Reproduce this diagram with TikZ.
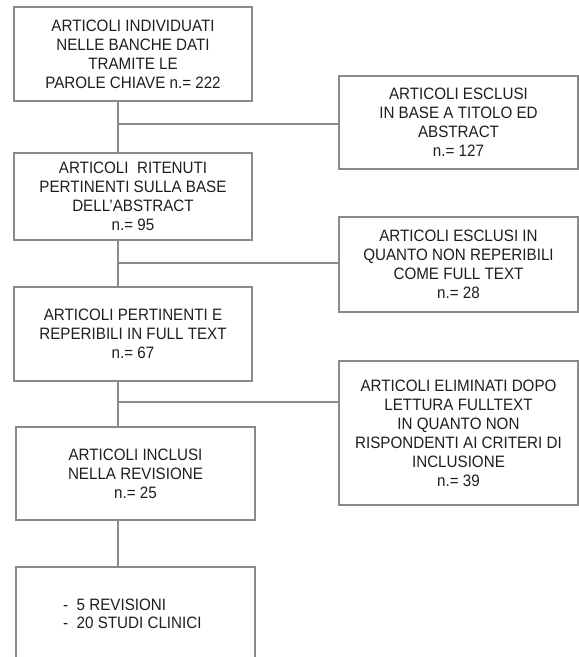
\documentclass[tikz,border=0pt]{standalone}
\usepackage{fontspec}
\setmainfont[FakeStretch=0.92]{Liberation Sans}
\definecolor{linegray}{HTML}{8A8A8A}
\definecolor{txtcol}{HTML}{1E1E1E}
\tikzset{
  flowbox/.style n args={2}{draw=linegray, line width=1.4pt, text=txtcol, align=center,
    font=\fontsize{16.5}{19}\selectfont, inner sep=0pt,
    minimum width=#1, minimum height=#2},
  conn/.style={draw=linegray, line width=1.4pt},
  listtext/.style={text=txtcol, align=left, font=\fontsize{16.5}{18.5}\selectfont, inner sep=0pt, anchor=west}
}
\begin{document}
\begin{tikzpicture}[x=1pt,y=-1pt]
\path[use as bounding box] (0,0) rectangle (579,657);
\node[flowbox={238pt}{94pt}] (b1) at (133,54) {ARTICOLI INDIVIDUATI\\NELLE BANCHE DATI\\TRAMITE LE\\PAROLE CHIAVE n.= 222};
\node[flowbox={239pt}{93pt}] (e1) at (458.5,122.5) {ARTICOLI ESCLUSI\\IN BASE A TITOLO ED\\ABSTRACT\\n.= 127};
\node[flowbox={238pt}{87pt}] (b2) at (133,196.5) {ARTICOLI\ \ RITENUTI\\PERTINENTI SULLA BASE\\DELL’ABSTRACT\\n.= 95};
\node[flowbox={239pt}{95pt}] (e2) at (458.5,264.5) {ARTICOLI ESCLUSI IN\\QUANTO NON REPERIBILI\\COME FULL TEXT\\n.= 28};
\node[flowbox={238pt}{94pt}] (b3) at (133,334) {ARTICOLI PERTINENTI E\\REPERIBILI IN FULL TEXT\\n.= 67};
\node[flowbox={239pt}{144pt}] (e3) at (458.5,433) {ARTICOLI ELIMINATI DOPO\\LETTURA FULLTEXT\\IN QUANTO NON\\RISPONDENTI AI CRITERI DI\\INCLUSIONE\\n.= 39};
\node[flowbox={239pt}{93pt}] (b4) at (135.5,473.5) {ARTICOLI INCLUSI\\NELLA REVISIONE\\n.= 25};
\node[flowbox={239pt}{110pt}] (b5) at (135.5,622) {};
\node[listtext] (t5) at (63,614) {-\ \ 5 REVISIONI\\-\ \ 20 STUDI CLINICI};
\coordinate (j1) at (118,124);
\coordinate (j2) at (118,263);
\coordinate (j3) at (118,402);
\draw[conn] (b1.south -| j1) -- (b2.north -| j1);
\draw[conn] (j1) -- (e1.west |- j1);
\draw[conn] (b2.south -| j2) -- (b3.north -| j2);
\draw[conn] (j2) -- (e2.west |- j2);
\draw[conn] (b3.south -| j3) -- (b4.north -| j3);
\draw[conn] (j3) -- (e3.west |- j3);
\draw[conn] (b4.south -| j3) -- (b5.north -| j3);
\end{tikzpicture}
\end{document}
